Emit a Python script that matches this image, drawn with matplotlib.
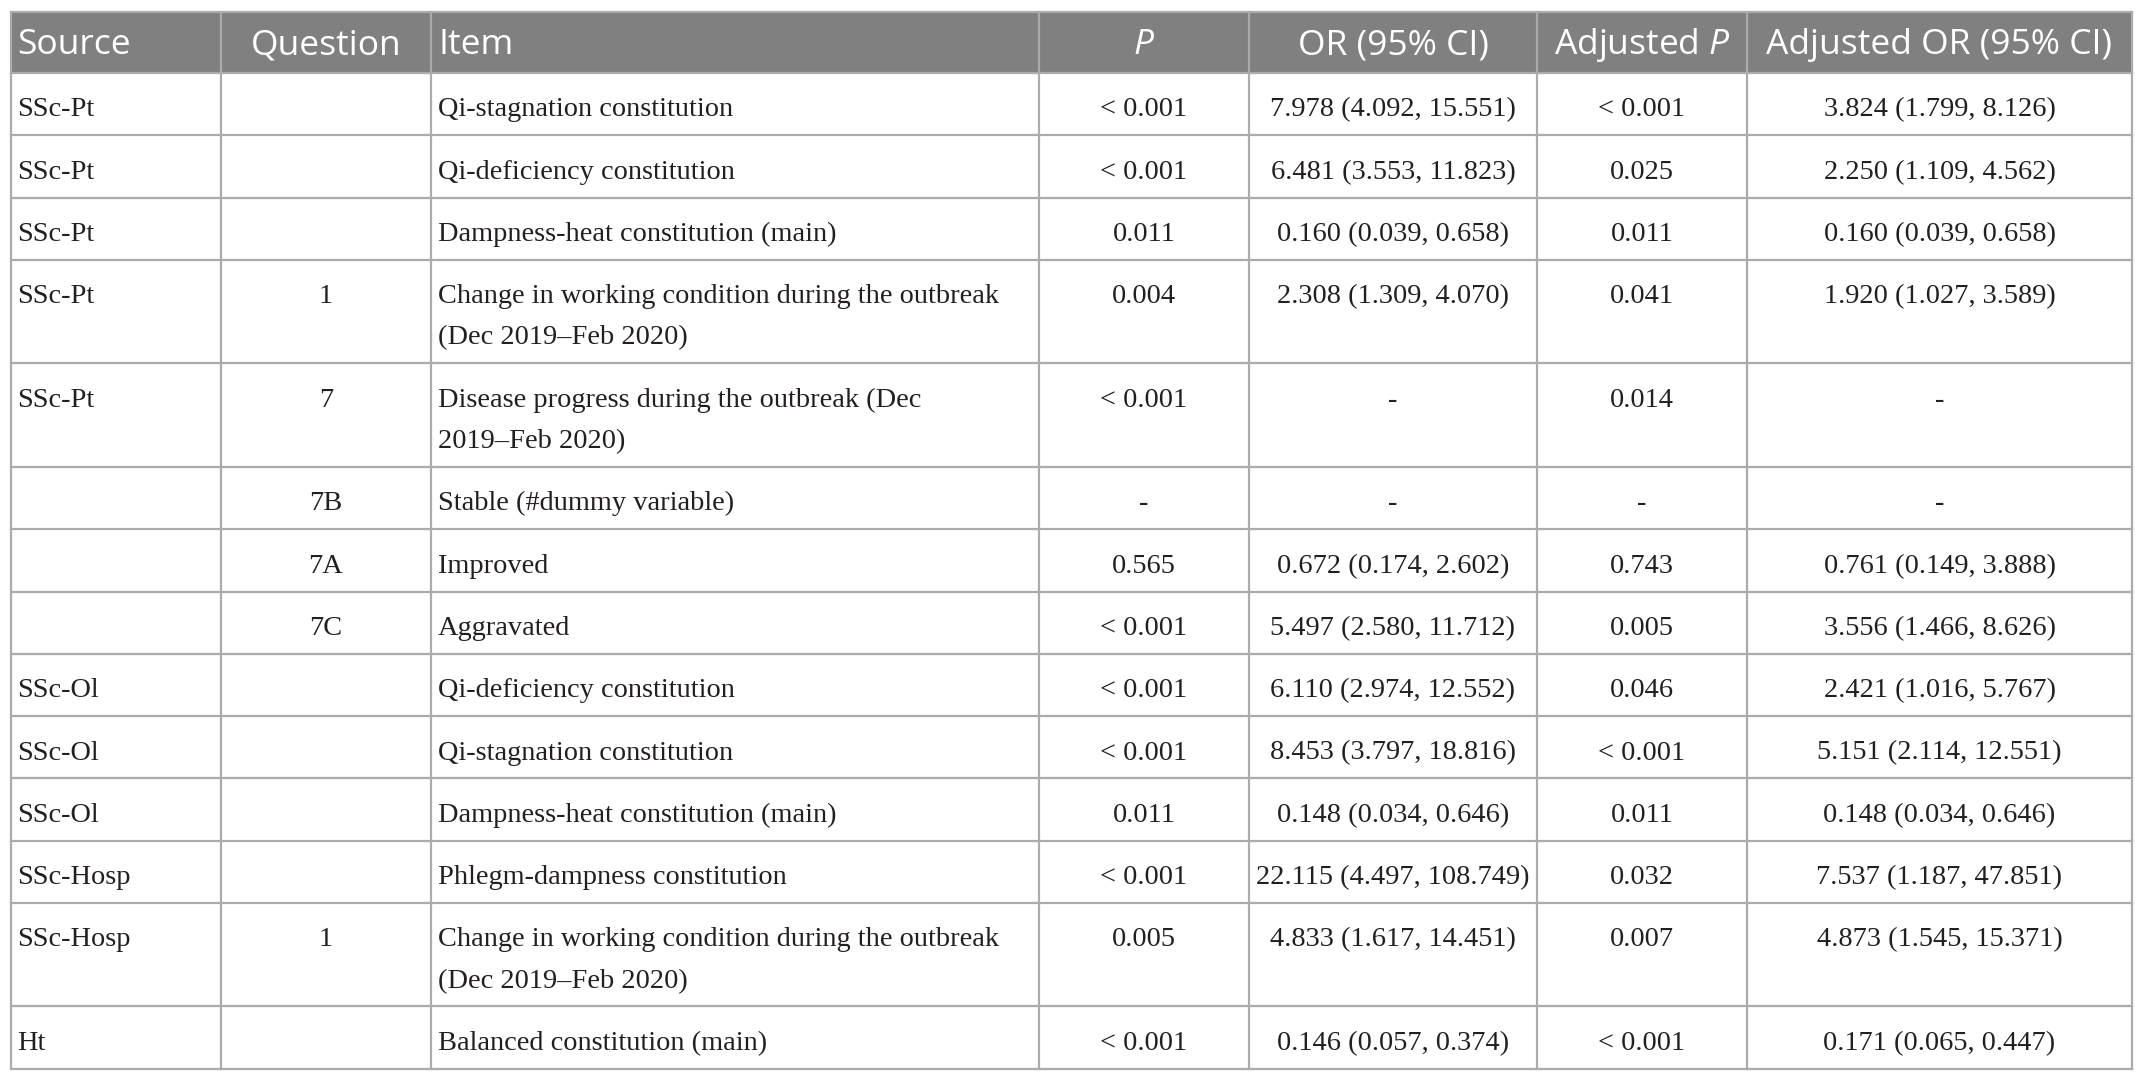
import matplotlib.pyplot as plt

plt.rcParams['mathtext.fontset'] = 'custom'
plt.rcParams['mathtext.it'] = 'Open Sans:italic'
plt.rcParams['mathtext.rm'] = 'Open Sans'

headers = ['Source', 'Question', 'Item', r'$\it{P}$', 'OR (95% CI)',
           r'Adjusted $\it{P}$', 'Adjusted OR (95% CI)']

sources = ['SSc-Pt', 'SSc-Pt', 'SSc-Pt', 'SSc-Pt', 'SSc-Pt', '', '', '',
           'SSc-Ol', 'SSc-Ol', 'SSc-Ol', 'SSc-Hosp', 'SSc-Hosp', 'Ht']
questions = ['', '', '', '1', '7', '7B', '7A', '7C', '', '', '', '', '1', '']
items = [
    ['Qi-stagnation constitution'],
    ['Qi-deficiency constitution'],
    ['Dampness-heat constitution (main)'],
    ['Change in working condition during the outbreak', '(Dec 2019\u2013Feb 2020)'],
    ['Disease progress during the outbreak (Dec', '2019\u2013Feb 2020)'],
    ['Stable (#dummy variable)'],
    ['Improved'],
    ['Aggravated'],
    ['Qi-deficiency constitution'],
    ['Qi-stagnation constitution'],
    ['Dampness-heat constitution (main)'],
    ['Phlegm-dampness constitution'],
    ['Change in working condition during the outbreak', '(Dec 2019\u2013Feb 2020)'],
    ['Balanced constitution (main)'],
]
p_values = ['< 0.001', '< 0.001', '0.011', '0.004', '< 0.001', '-', '0.565',
            '< 0.001', '< 0.001', '< 0.001', '0.011', '< 0.001', '0.005', '< 0.001']
or_ci = ['7.978 (4.092, 15.551)', '6.481 (3.553, 11.823)', '0.160 (0.039, 0.658)',
         '2.308 (1.309, 4.070)', '-', '-', '0.672 (0.174, 2.602)',
         '5.497 (2.580, 11.712)', '6.110 (2.974, 12.552)', '8.453 (3.797, 18.816)',
         '0.148 (0.034, 0.646)', '22.115 (4.497, 108.749)', '4.833 (1.617, 14.451)',
         '0.146 (0.057, 0.374)']
adj_p = ['< 0.001', '0.025', '0.011', '0.041', '0.014', '-', '0.743', '0.005',
         '0.046', '< 0.001', '0.011', '0.032', '0.007', '< 0.001']
adj_or_ci = ['3.824 (1.799, 8.126)', '2.250 (1.109, 4.562)', '0.160 (0.039, 0.658)',
             '1.920 (1.027, 3.589)', '-', '-', '0.761 (0.149, 3.888)',
             '3.556 (1.466, 8.626)', '2.421 (1.016, 5.767)', '5.151 (2.114, 12.551)',
             '0.148 (0.034, 0.646)', '7.537 (1.187, 47.851)', '4.873 (1.545, 15.371)',
             '0.171 (0.065, 0.447)']

W, H = 2146, 1083
fig = plt.figure(figsize=(W / 100, H / 100), dpi=100)
ax = fig.add_axes([0, 0, 1, 1])
ax.set_xlim(0, W)
ax.set_ylim(H, 0)
ax.axis('off')

edges = [10.5, 221, 431, 1039, 1249, 1537, 1747, 2132]
aligns = ['left', 'center', 'left', 'center', 'center', 'center', 'center']
top, head_h = 12, 61
line_gap = 41.2
grid_c = '#ababab'
txt_c = '#231f20'
body_font = 'Liberation Serif'
fs_body = 20.4
fs_head = 25.5


def xpos(j):
    if aligns[j] == 'left':
        return edges[j] + 7
    return (edges[j] + edges[j + 1]) / 2


# header band
ax.add_patch(plt.Rectangle((edges[0], top), edges[-1] - edges[0], head_h,
                           facecolor='#808080', edgecolor='none', zorder=1))
for j, h in enumerate(headers):
    ax.text(xpos(j), top + head_h / 2 + 3, h, ha=aligns[j], va='center',
            color='white', fontsize=fs_head, family='Open Sans', zorder=3)

# body rows
y = top + head_h
row_lines = [y]
for i in range(len(items)):
    n = len(items[i])
    rh = 21.1 + line_gap * n
    y0 = y + 37
    cells = [[sources[i]], [questions[i]], items[i], [p_values[i]], [or_ci[i]],
             [adj_p[i]], [adj_or_ci[i]]]
    for j, lines in enumerate(cells):
        for k, s in enumerate(lines):
            ax.text(xpos(j), y0 + k * line_gap, s, ha=aligns[j], va='center',
                    color=txt_c, fontsize=fs_body, family=body_font, zorder=3)
    y += rh
    row_lines.append(y)

for yy in row_lines:
    ax.plot([edges[0], edges[-1]], [yy, yy], color=grid_c, lw=1.6, zorder=2)
ax.plot([edges[0], edges[-1]], [top, top], color=grid_c, lw=1.6, zorder=2)
for x in edges:
    ax.plot([x, x], [top, row_lines[-1]], color=grid_c, lw=1.6, zorder=2)

fig.savefig('out.png', dpi=100, facecolor='white')
